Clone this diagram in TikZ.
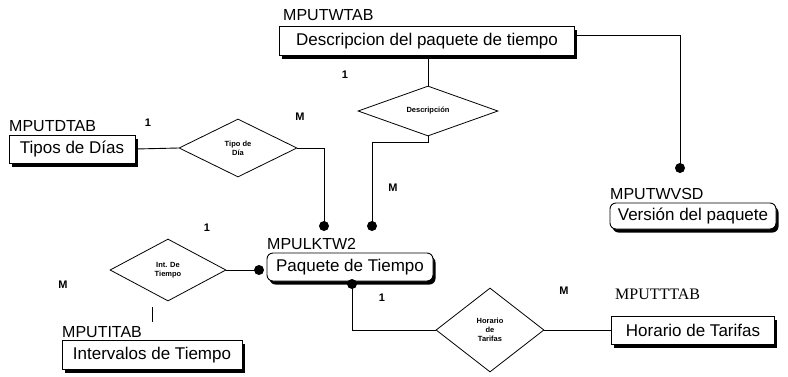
\documentclass[tikz,border=0pt]{standalone}
\usepackage{fontspec}
\setmainfont{Liberation Sans}
\newfontfamily\tabserif{Liberation Serif}
\usetikzlibrary{shapes.geometric,shadows}
\begin{document}
\begin{tikzpicture}[x=1pt,y=-1pt,
  tbl/.style={draw,line width=0.9pt,fill=white,inner sep=0pt,font=\fontsize{17}{19}\selectfont,
    drop shadow={fill=black,opacity=1,shadow xshift=2.5pt,shadow yshift=-3.5pt}},
  rtbl/.style={tbl,rounded corners=6pt},
  rel/.style={draw,diamond,line width=0.8pt,inner sep=0pt,align=center,
    font=\bfseries\fontsize{7.5}{9}\selectfont},
  lbl/.style={anchor=base west,inner sep=0pt,font=\fontsize{16}{18}\selectfont},
  card/.style={inner sep=0pt,font=\bfseries\fontsize{11}{12}\selectfont},
  dot/.style={circle,fill=black,inner sep=0pt,minimum size=10pt},
  conn/.style={line width=0.9pt}]
\useasboundingbox (0,0) rectangle (788,376);

% tables
\node[tbl,minimum width=295pt,minimum height=29pt] (wtab) at (427,41) {Descripcion del paquete de tiempo};
\node[lbl] (wtabl) at (283,20) {MPUTWTAB};
\node[rtbl,minimum width=166pt,minimum height=26pt] (wvsd) at (693,216) {Versión del paquete};
\node[lbl] (wvsdl) at (610,199) {MPUTWVSD};
\node[tbl,minimum width=126pt,minimum height=28pt] (dtab) at (72,149) {Tipos de Días};
\node[lbl] (dtabl) at (9,131) {MPUTDTAB};
\node[rtbl,minimum width=166pt,minimum height=28pt] (lktw) at (350,267) {Paquete de Tiempo};
\node[lbl] (lktwl) at (267,249) {MPULKTW2};
\node[tbl,minimum width=180pt,minimum height=29pt] (itab) at (152,355) {Intervalos de Tiempo};
\node[lbl] (itabl) at (62,337) {MPUTITAB};
\node[tbl,minimum width=163pt,minimum height=28pt] (ttab) at (693,330) {Horario de Tarifas};
\node[lbl,font=\tabserif\fontsize{16}{18}\selectfont] (ttabl) at (615,299) {MPUTTTAB};

% relationships
\node[rel,minimum width=140pt,minimum height=42pt] (desc) at (428,111) {Descripción};
\node[rel,minimum width=118pt,minimum height=58pt] (tipo) at (238,148) {Tipo de\\Día};
\node[rel,minimum width=116pt,minimum height=62pt] (int) at (168,270) {Int. De\\Tiempo};
\node[rel,minimum width=108pt,minimum height=84pt] (hor) at (490,330) {Horario\\de\\Tarifas};

% connectors
\draw[conn] ([yshift=6pt]wtab.east) -| (680,168);
\draw[conn] (desc.north |- wtab.south) -- (desc.north);
\draw[conn] (desc.south) -- ++(0,6) -| (372,226);
\draw[conn] (dtab.east) -- (tipo.west);
\draw[conn] (tipo.east) -| (324,226);
\draw[conn] (int.east) -- (259,270);
\draw[conn] (352,284) |- (hor.west);
\draw[conn] (hor.east) -- (ttab.west);
\coordinate (tick) at (152,307);
\draw[conn] (tick) -- ++(0,15);

% dots
\node[dot] (dv) at (680,168) {};
\node[dot] (dm2) at (372,226) {};
\node[dot] (dm1) at (324,226) {};
\node[dot] (dl) at (259,270) {};
\node[dot] (db) at (352,284) {};

% cardinalities
\node[card] (c1) at (345,75) {1};
\node[card] (c2) at (148,123) {1};
\node[card] (c3) at (300,117) {M};
\node[card] (c4) at (393,188) {M};
\node[card] (c5) at (207,228) {1};
\node[card] (c6) at (63,285) {M};
\node[card] (c7) at (382,298) {1};
\node[card] (c8) at (564,291) {M};
\end{tikzpicture}
\end{document}
